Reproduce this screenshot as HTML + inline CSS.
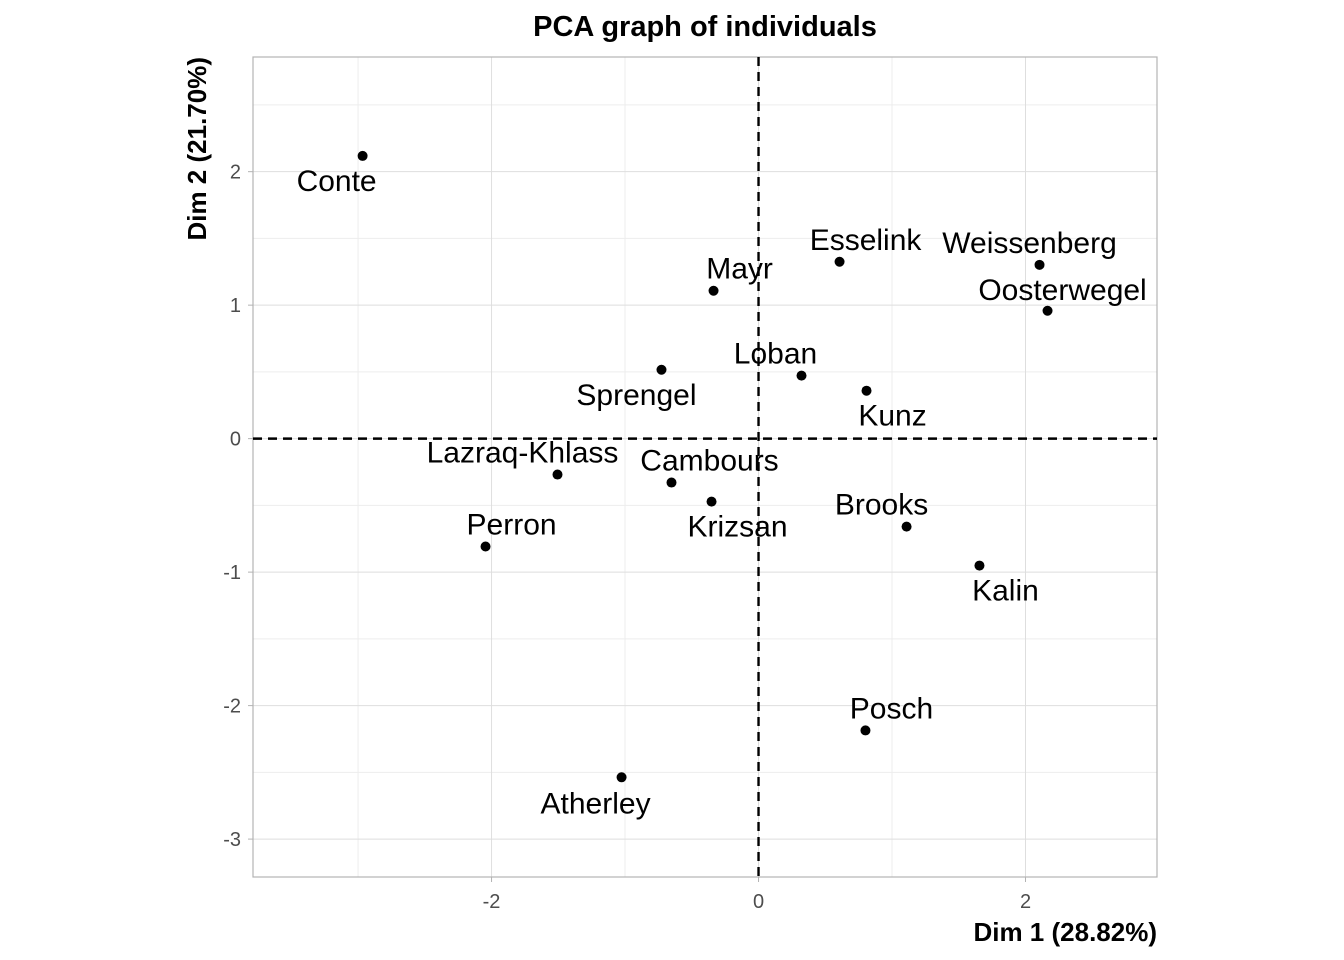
<!DOCTYPE html>
<html><head><meta charset="utf-8"><style>body{margin:0;background:#fff}svg{display:block;font-family:"Liberation Sans",Arial,sans-serif}</style></head>
<body>
<svg id="c" width="1344" height="960"></svg>
<script>
const names=["Conte","Mayr","Esselink","Weissenberg","Oosterwegel","Sprengel","Loban","Kunz","Lazraq-Khlass","Cambours","Krizsan","Brooks","Perron","Kalin","Posch","Atherley"];
const dim1=[-2.966,-0.337,0.607,2.105,2.165,-0.727,0.322,0.809,-1.506,-0.652,-0.352,1.109,-2.045,1.655,0.801,-1.026];
const dim2=[2.118,1.108,1.325,1.302,0.958,0.516,0.472,0.359,-0.269,-0.329,-0.472,-0.659,-0.808,-0.951,-2.186,-2.537];
const xTicks=[-2,0,2];
const yTicks=[-3,-2,-1,0,1,2];
const xMinor=[-3,-1,1];
const yMinor=[-2.5,-1.5,-0.5,0.5,1.5,2.5];
const labelDx=[-26,26,26,-10,15,-25,-26,26,-35,38,26,-25,26,26,26,-26];
const labelDy=[25,-22,-22,-22,-21,25,-22,25,-22,-22,25,-22,-22,25,-22,26];
const L=253,R=1157,T=57,B=877;
const xMin=-3.787,xMax=2.985,yMin=-3.284,yMax=2.859;
const sx=v=>L+(v-xMin)/(xMax-xMin)*(R-L);
const sy=v=>B-(v-yMin)/(yMax-yMin)*(B-T);
const svg=document.getElementById('c');const NS='http://www.w3.org/2000/svg';
function mk(t,a,p){const e=document.createElementNS(NS,t);for(const k in a)e.setAttribute(k,a[k]);(p||svg).appendChild(e);return e;}
function grid(x1,y1,x2,y2,c,n){const e=mk('line',{x1,y1,x2,y2,stroke:c,'stroke-width':1});}
xMinor.forEach(v=>grid(sx(v),T,sx(v),B,'#ededed','x-minor-grid'));
yMinor.forEach(v=>grid(L,sy(v),R,sy(v),'#ededed','y-minor-grid'));
xTicks.forEach(v=>grid(sx(v),T,sx(v),B,'#dedede','x-major-grid'));
yTicks.forEach(v=>grid(L,sy(v),R,sy(v),'#dedede','y-major-grid'));
let e=mk('rect',{x:L,y:T,width:R-L,height:B-T,fill:'none',stroke:'#b3b3b3','stroke-width':1.2});

e=mk('line',{x1:sx(0),y1:T,x2:sx(0),y2:B,stroke:'#000','stroke-width':2.4,'stroke-dasharray':'9,6'});

e=mk('line',{x1:L,y1:sy(0),x2:R,y2:sy(0),stroke:'#000','stroke-width':2.4,'stroke-dasharray':'9,6'});

xTicks.forEach(v=>{const t=mk('text',{x:sx(v),y:B+31,'text-anchor':'middle','font-size':20,fill:'#4d4d4d'});t.textContent=v;

const k=mk('line',{x1:sx(v),y1:B,x2:sx(v),y2:B+5,stroke:'#b3b3b3'});});
yTicks.forEach(v=>{const t=mk('text',{x:L-12,y:sy(v)+7,'text-anchor':'end','font-size':20,fill:'#4d4d4d'});t.textContent=v;

const k=mk('line',{x1:L-5,y1:sy(v),x2:L,y2:sy(v),stroke:'#b3b3b3'});});
names.forEach((n,i)=>{const c=mk('circle',{cx:sx(dim1[i]),cy:sy(dim2[i]),r:5,fill:'#000'});

const t=mk('text',{x:sx(dim1[i])+labelDx[i],y:sy(dim2[i])+labelDy[i]+10,'text-anchor':'middle','font-size':30,fill:'#000'});t.textContent=n;
});
e=mk('text',{x:705,y:36,'text-anchor':'middle','font-size':29,'font-weight':'bold'});e.textContent='PCA graph of individuals';

e=mk('text',{x:1157,y:941,'text-anchor':'end','font-size':26,'font-weight':'bold'});e.textContent='Dim 1 (28.82%)';

e=mk('text',{x:0,y:0,'text-anchor':'end','font-size':26,'font-weight':'bold',transform:'translate(206,57) rotate(-90)'});e.textContent='Dim 2 (21.70%)';

</script>
</body></html>
